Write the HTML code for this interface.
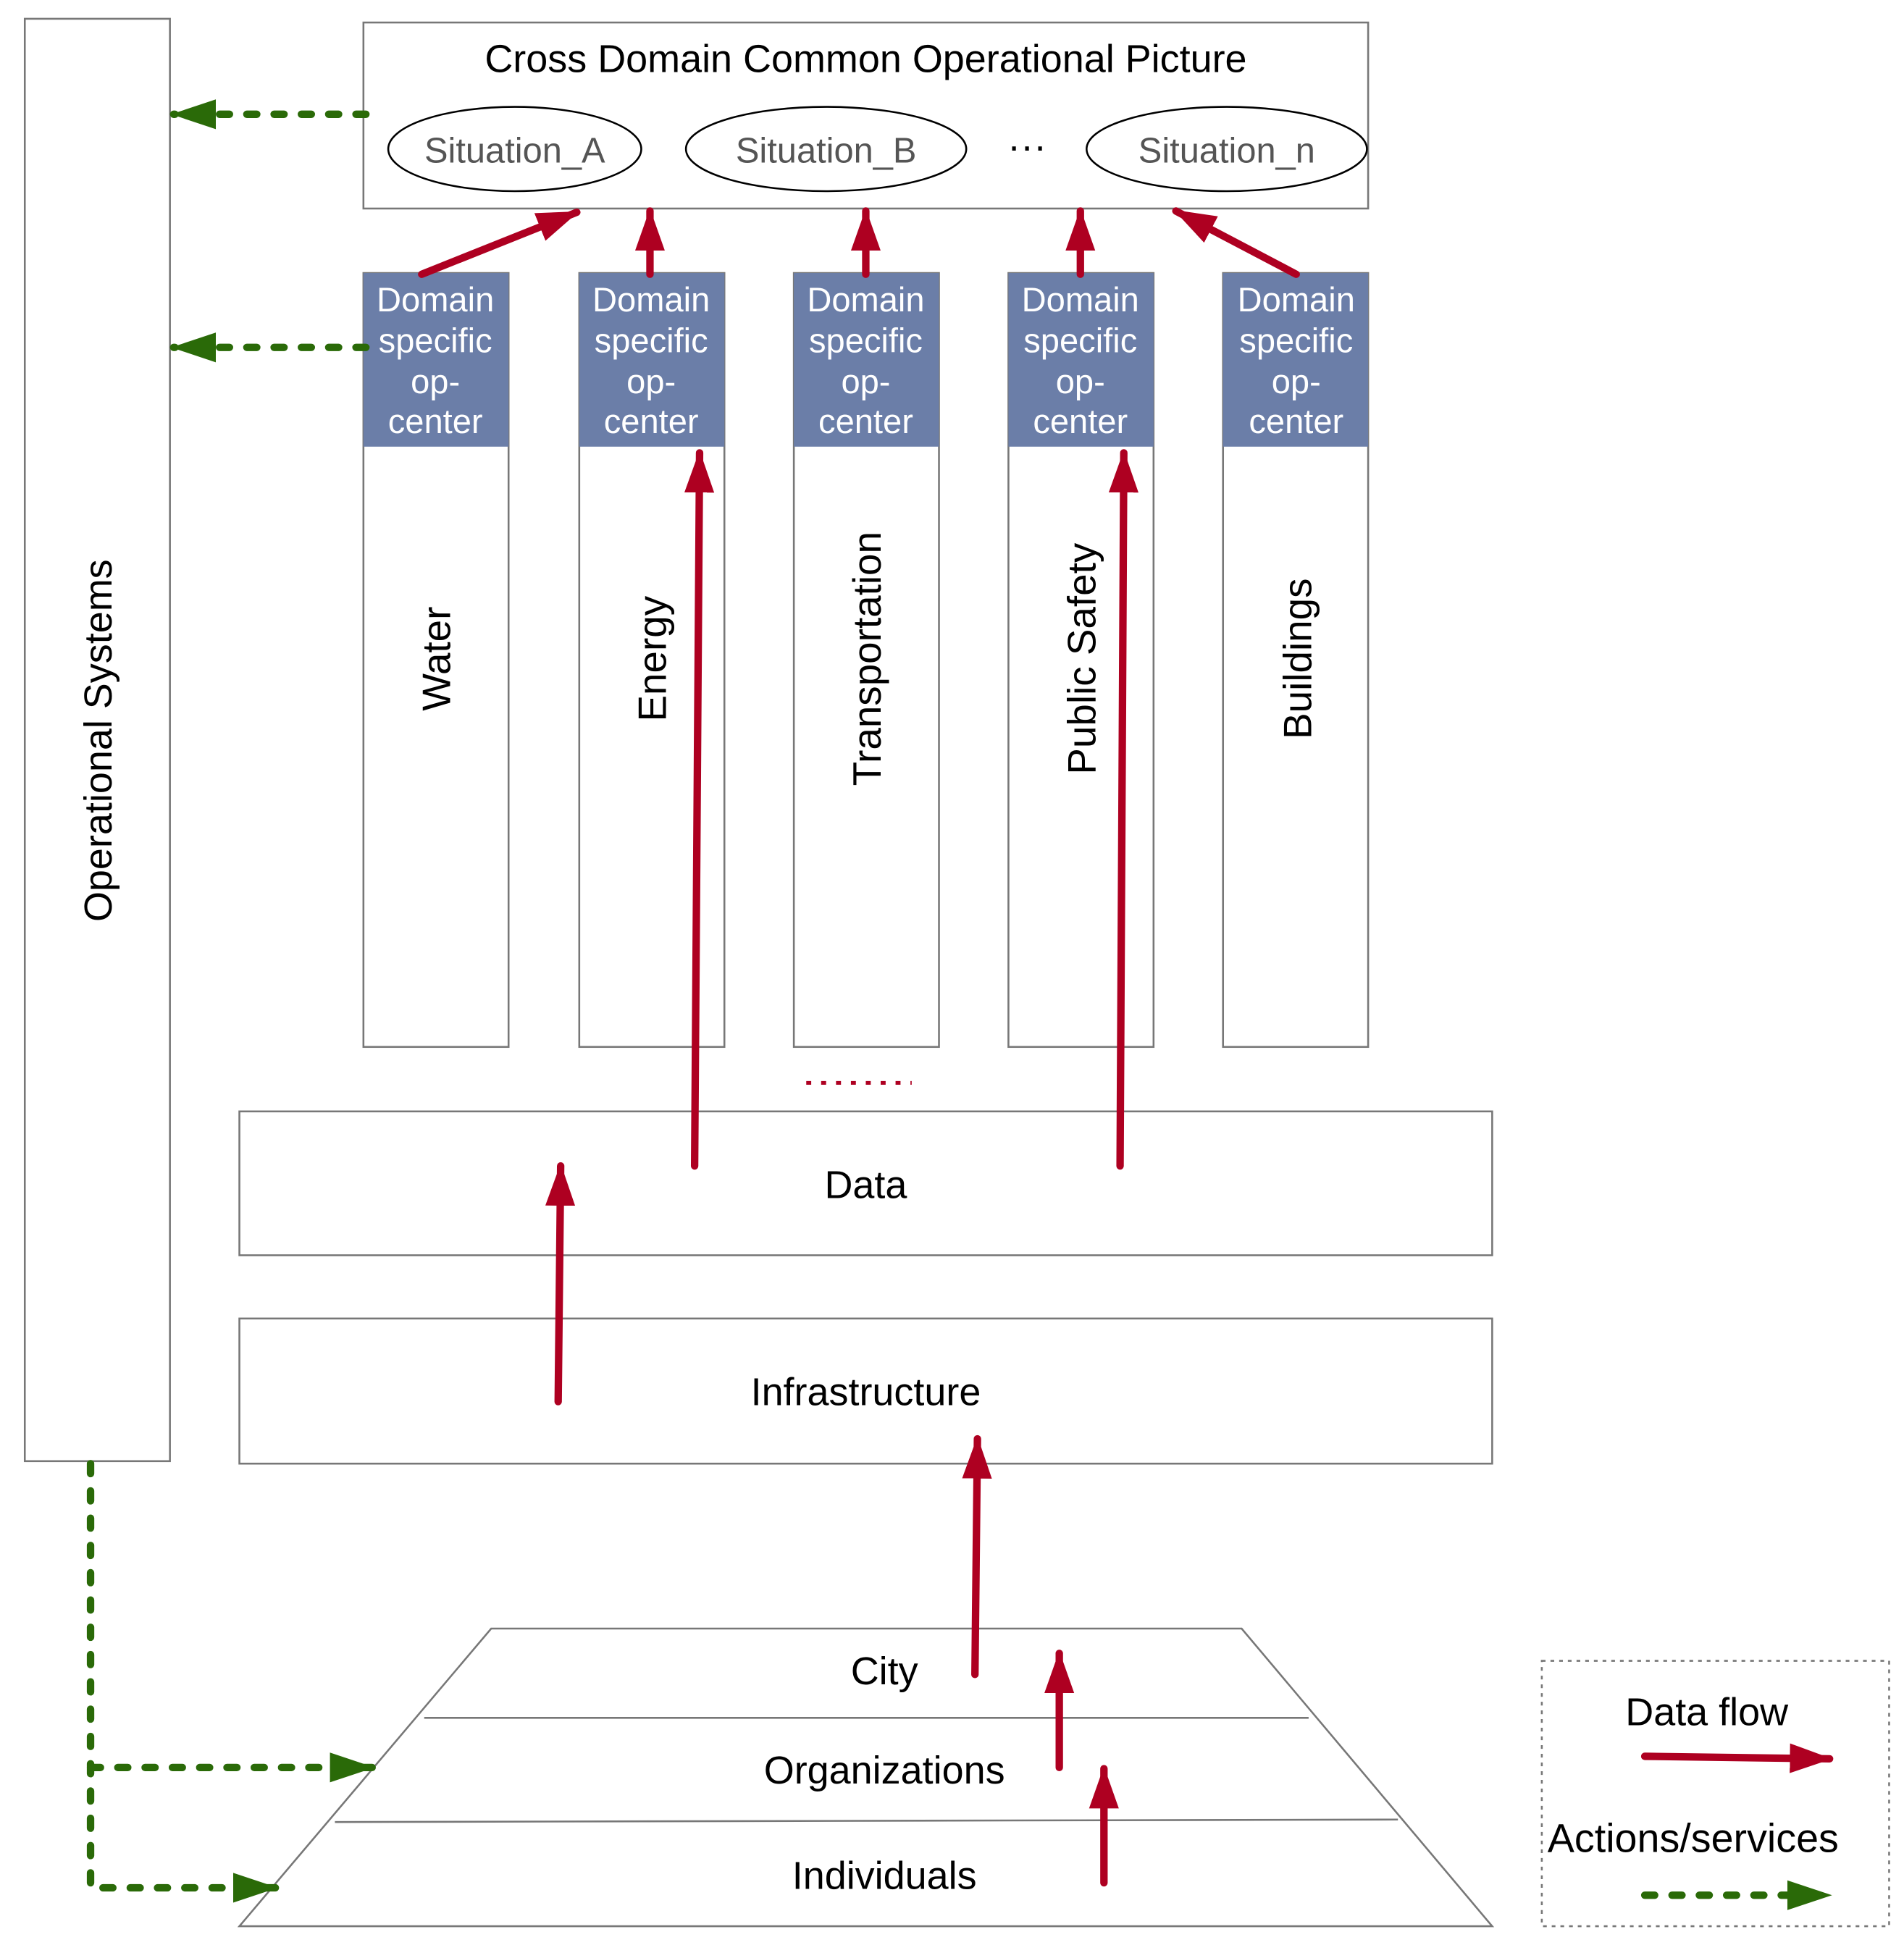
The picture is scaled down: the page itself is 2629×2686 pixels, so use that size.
<!DOCTYPE html>
<html><head><meta charset="utf-8"><style>
html,body{margin:0;padding:0;background:#fff}
svg{display:block}
text{font-family:"Liberation Sans",sans-serif}
</style></head><body>
<svg width="2629" height="2686" viewBox="0 0 1535 1568" xmlns="http://www.w3.org/2000/svg">
<defs>
<marker id="r" markerUnits="userSpaceOnUse" markerWidth="36" markerHeight="28" refX="32" refY="14" orient="auto"><path d="M0,2 L34,14 L0,26 Z" fill="#ae0021"/></marker>
<marker id="g" markerUnits="userSpaceOnUse" markerWidth="40" markerHeight="28" refX="34" refY="14" orient="auto"><path d="M0,2 L36,14 L0,26 Z" fill="#2a6a08"/></marker>
</defs>
<g fill="none" stroke="#777" stroke-width="1.5">
<rect x="20" y="15" width="117" height="1163" fill="#fff"/>
<rect x="293" y="18" width="810" height="150" fill="#fff"/>
<ellipse cx="415" cy="120" rx="102" ry="34" stroke="#000"/>
<ellipse cx="666" cy="120" rx="113" ry="34" stroke="#000"/>
<ellipse cx="989" cy="120" rx="113" ry="34" stroke="#000"/>
<rect x="293" y="220" width="117" height="624"/>
<rect x="467" y="220" width="117" height="624"/>
<rect x="640" y="220" width="117" height="624"/>
<rect x="813" y="220" width="117" height="624"/>
<rect x="986" y="220" width="117" height="624"/>
<rect x="193" y="896" width="1010" height="116"/>
<rect x="193" y="1063" width="1010" height="117"/>
<path d="M396,1313 L1001,1313 L1203,1553 L193,1553 Z"/>
<line x1="342" y1="1385" x2="1055" y2="1385"/>
<line x1="270" y1="1469" x2="1127" y2="1467"/>
<rect x="1243" y="1339" width="280" height="214" stroke-dasharray="3 4"/>
</g>
<g fill="#6b7ea8">
<rect x="293" y="220" width="117" height="140"/>
<rect x="467" y="220" width="117" height="140"/>
<rect x="640" y="220" width="117" height="140"/>
<rect x="813" y="220" width="117" height="140"/>
<rect x="986" y="220" width="117" height="140"/>
</g>
<g fill="#fff" font-size="27.5" text-anchor="middle">
<text x="351" y="251">Domain</text><text x="351" y="284">specific</text><text x="351" y="317">op-</text><text x="351" y="349">center</text>
<text x="525" y="251">Domain</text><text x="525" y="284">specific</text><text x="525" y="317">op-</text><text x="525" y="349">center</text>
<text x="698" y="251">Domain</text><text x="698" y="284">specific</text><text x="698" y="317">op-</text><text x="698" y="349">center</text>
<text x="871" y="251">Domain</text><text x="871" y="284">specific</text><text x="871" y="317">op-</text><text x="871" y="349">center</text>
<text x="1045" y="251">Domain</text><text x="1045" y="284">specific</text><text x="1045" y="317">op-</text><text x="1045" y="349">center</text>
</g>
<g font-size="31.5" text-anchor="middle" fill="#000">
<text x="698" y="58">Cross Domain Common Operational Picture</text>
<g fill="#555" font-size="28.5"><text x="415" y="131">Situation_A</text><text x="666" y="131">Situation_B</text><text x="989" y="131">Situation_n</text></g>
<text x="828" y="128">···</text>
<text transform="translate(90,597) rotate(-90)">Operational Systems</text>
<g font-size="32">
<text transform="translate(363,531) rotate(-90)">Water</text>
<text transform="translate(537,531) rotate(-90)">Energy</text>
<text transform="translate(710,531) rotate(-90)">Transportation</text>
<text transform="translate(883,531) rotate(-90)">Public Safety</text>
<text transform="translate(1057,531) rotate(-90)">Buildings</text>
</g>
<text x="698" y="966">Data</text>
<text x="698" y="1133">Infrastructure</text>
<text x="713" y="1358">City</text>
<text x="713" y="1438">Organizations</text>
<text x="713" y="1523">Individuals</text>
<text x="1376" y="1391">Data flow</text>
<text x="1365" y="1493" font-size="32.5">Actions/services</text>
</g>
<line x1="650" y1="873" x2="735" y2="873" stroke="#ae0021" stroke-width="3" stroke-dasharray="4 8"/>
<g stroke="#ae0021" stroke-width="6" stroke-linecap="round" fill="none" marker-end="url(#r)">
<line x1="340" y1="221" x2="465" y2="171"/>
<line x1="524" y1="221" x2="524" y2="170"/>
<line x1="698" y1="221" x2="698" y2="170"/>
<line x1="871" y1="221" x2="871" y2="170"/>
<line x1="1045" y1="221" x2="948" y2="170"/>
<line x1="560" y1="940" x2="564" y2="365"/>
<line x1="903" y1="940" x2="906" y2="365"/>
<line x1="450" y1="1130" x2="452" y2="940"/>
<line x1="786" y1="1350" x2="788" y2="1160"/>
<line x1="854" y1="1425" x2="854" y2="1333"/>
<line x1="890" y1="1518" x2="890" y2="1426"/>
<line x1="1326" y1="1416" x2="1475" y2="1418"/>
</g>
<g stroke="#2a6a08" stroke-width="6" stroke-linecap="round" fill="none" stroke-dasharray="8 14">
<line x1="295" y1="92" x2="140" y2="92" marker-end="url(#g)"/>
<line x1="295" y1="280" x2="140" y2="280" marker-end="url(#g)"/>
<path d="M73,1180 L73,1522 L222,1522" marker-end="url(#g)"/>
<line x1="73" y1="1425" x2="300" y2="1425" marker-end="url(#g)"/>
<line x1="1326" y1="1528" x2="1475" y2="1528" marker-end="url(#g)"/>
</g>
</svg>
</body></html>
